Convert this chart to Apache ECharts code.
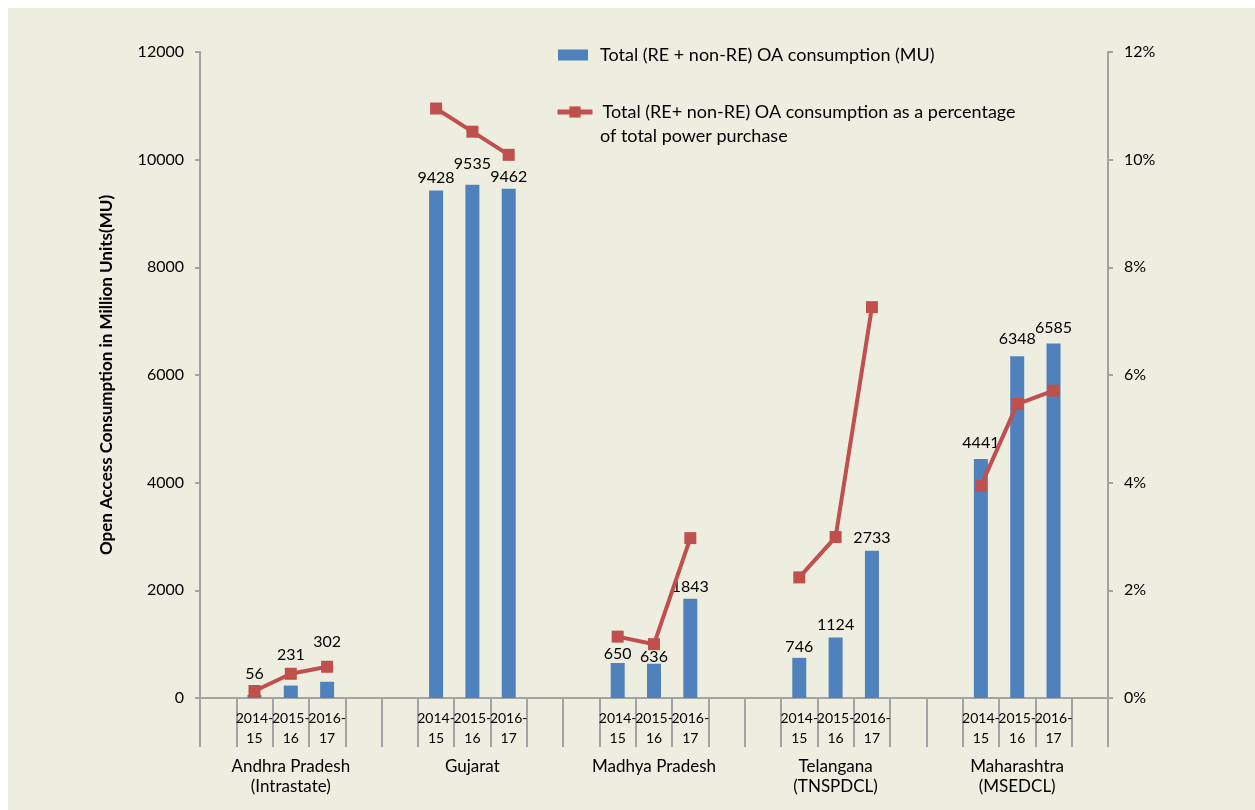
<!DOCTYPE html>
<html>

<head>
    <meta charset="utf-8" />
    <title>Open Access Consumption</title>
    <script src="https://cdn.jsdelivr.net/npm/echarts@6.0.0/dist/echarts.min.js"></script>
    <style>
        body { margin: 0; background: #ffffff; }
        #main { position: absolute; left: 8px; top: 8px; width: 1247px; height: 802px; }
    </style>
</head>

<body>
    <div id="main"></div>
    <script type="text/javascript">
        // states (group labels) and financial years
        const states = ['Andhra Pradesh\n(Intrastate)', 'Gujarat', 'Madhya Pradesh', 'Telangana\n(TNSPDCL)', 'Maharashtra\n(MSEDCL)'];
        const years = ['2014-15', '2015-16', '2016-17'];

        // Total (RE + non-RE) OA consumption, MU
        const consumption = [
            [56, 231, 302],
            [9428, 9535, 9462],
            [650, 636, 1843],
            [746, 1124, 2733],
            [4441, 6348, 6585]
        ];
        // consumption as % of total power purchase
        const sharePct = [
            [0.13, 0.45, 0.58],
            [10.95, 10.52, 10.09],
            [1.14, 1.00, 2.97],
            [2.24, 2.99, 7.26],
            [3.94, 5.46, 5.71]
        ];

        const leftTicks = { min: 0, max: 12000, interval: 2000 };
        const rightTicks = { min: 0, max: 0.12, interval: 0.02 };

        // small vertical nudges of the value labels (px), like the hand-moved ones in the original
        const labelNudge = [[-8, -18, -27], [0, -8, 1], [4, 6, 1], [2, 0, 0], [-3, -4, -3]];

        const barName = 'Total (RE + non-RE) OA consumption (MU)';
        const lineName = 'Total (RE+ non-RE) OA consumption as a percentage of total power purchase';

        const font = 'Lato';
        const axisGrey = '#a3a3a3';

        // every state gets 5 slots: empty, 3 years, empty
        let slots = [], barData = [], lineData = [];
        states.forEach((s, g) => {
            slots.push(g + '|a');
            barData.push('-');
            lineData.push('-');
            years.forEach((y, k) => {
                slots.push(g + '|' + y);
                barData.push({ value: consumption[g][k], label: { offset: [0, labelNudge[g][k]] } });
                lineData.push(sharePct[g][k] / 100);
            });
            slots.push(g + '|b');
            barData.push('-');
            lineData.push('-');
        });

        let myChart = echarts.init(document.getElementById('main'));

        let option = {
            backgroundColor: '#eeeee0',
            textStyle: { fontFamily: font },
            animation: false,
            grid: { left: 192, right: 147, top: 44, bottom: 112 },
            legend: [{
                data: [barName],
                left: 545, top: 32,
                icon: 'rect',
                itemWidth: 30, itemHeight: 11,
                textStyle: { fontFamily: font, fontSize: 18, color: '#000', lineHeight: 20, padding: [0, 0, 0, 7] }
            }, {
                data: [lineName],
                left: 542, top: 89,
                itemWidth: 35, itemHeight: 14,
                lineStyle: { width: 5 },
                formatter: () => 'Total (RE+ non-RE) OA consumption as a percentage',
                textStyle: { fontFamily: font, fontSize: 18, color: '#000', lineHeight: 20, padding: [0, 0, 0, 5] }
            }],
            graphic: [{
                type: 'text', left: 592, top: 119,
                style: { text: 'of total power purchase', font: '18px ' + font, fill: '#000' }
            }],
            xAxis: [{
                type: 'category',
                data: slots,
                axisLine: { lineStyle: { color: axisGrey, width: 2 } },
                axisTick: { show: true, interval: 0, length: 49, lineStyle: { color: axisGrey, width: 2 } },
                axisLabel: {
                    interval: 0, margin: 10, fontSize: 14, lineHeight: 20, color: '#000',
                    formatter: v => {
                        let y = v.split('|')[1];
                        return y.length > 1 ? y.replace('-', '-\n') : '';
                    }
                }
            }, {
                type: 'category',
                data: states,
                position: 'bottom',
                offset: 49,
                axisLine: { show: false },
                axisTick: { show: true, interval: 0, length: 30, lineStyle: { color: axisGrey, width: 2 } },
                axisLabel: { interval: 0, margin: 10, fontSize: 17, lineHeight: 20, color: '#000' }
            }],
            yAxis: [{
                type: 'value',
                min: leftTicks.min, max: leftTicks.max, interval: leftTicks.interval,
                name: 'Open Access Consumption in Million Units(MU)',
                nameLocation: 'middle', nameGap: 85,
                nameTextStyle: { fontFamily: font, fontSize: 17, fontWeight: 'bold', color: '#000' },
                axisLine: { show: true, lineStyle: { color: axisGrey, width: 2 } },
                axisTick: { show: true, length: 5, lineStyle: { color: axisGrey, width: 2 } },
                axisLabel: { margin: 16, fontSize: 16, color: '#000', formatter: v => String(v) },
                splitLine: { show: false }
            }, {
                type: 'value',
                min: rightTicks.min, max: rightTicks.max, interval: rightTicks.interval,
                position: 'right',
                axisLine: { show: true, lineStyle: { color: axisGrey, width: 2 } },
                axisTick: { show: true, length: 5, lineStyle: { color: axisGrey, width: 2 } },
                axisLabel: { margin: 16, fontSize: 16, color: '#000', formatter: v => Math.round(v * 100) + '%' },
                splitLine: { show: false }
            }],
            series: [{
                name: barName,
                type: 'bar',
                xAxisIndex: 0, yAxisIndex: 0,
                barWidth: 14,
                itemStyle: { color: '#4f81bd' },
                label: { show: true, position: 'top', distance: 5, fontSize: 16, color: '#000' },
                data: barData
            }, {
                name: lineName,
                type: 'line',
                xAxisIndex: 0, yAxisIndex: 1,
                symbol: 'rect', symbolSize: 12,
                connectNulls: false,
                lineStyle: { color: '#c0504d', width: 4 },
                itemStyle: { color: '#c0504d' },
                z: 3,
                data: lineData
            }]
        };

        myChart.setOption(option);
    </script>
</body>

</html>
